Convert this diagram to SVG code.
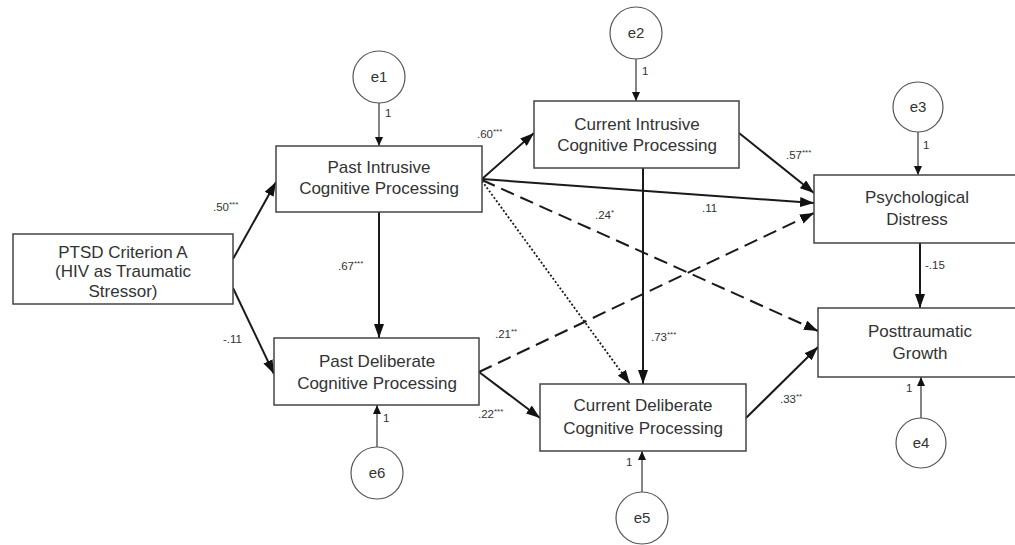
<svg xmlns="http://www.w3.org/2000/svg" width="1015" height="545" viewBox="0 0 1015 545">
<defs>
<style>
.box{fill:#fff;stroke:#444;stroke-width:1.5}
.err{fill:#fff;stroke:#555;stroke-width:1.2}
.bt{font-family:"Liberation Sans",Arial,sans-serif;font-size:17px;fill:#333;text-anchor:middle}
.et{font-family:"Liberation Sans",Arial,sans-serif;font-size:15px;fill:#333;text-anchor:middle}
.lb{font-family:"Liberation Sans",Arial,sans-serif;font-size:11.5px;fill:#333}
.st{font-size:8px}
.main{stroke:#1a1a1a;stroke-width:2;fill:none;marker-end:url(#big)}
.dash{stroke-dasharray:14 7}
.dot{stroke-dasharray:2 2;stroke-width:1.8}
.ea{stroke:#333;stroke-width:1.2;fill:none;marker-end:url(#small)}
</style>
<marker id="big" viewBox="0 0 14 10" refX="14" refY="5" markerWidth="14" markerHeight="10" markerUnits="userSpaceOnUse" orient="auto"><path d="M0,0 L14,5 L0,10 z" fill="#111"/></marker>
<marker id="small" viewBox="0 0 9 8" refX="9" refY="4" markerWidth="9" markerHeight="8" markerUnits="userSpaceOnUse" orient="auto"><path d="M0,0 L9,4 L0,8 z" fill="#111"/></marker>
</defs>
<rect width="1015" height="545" fill="#fff"/>
<g id="connectors">
<line class="main" x1="233" y1="259" x2="276" y2="182"/>
<line class="main" x1="233" y1="288" x2="274" y2="374"/>
<line class="main" x1="482" y1="179" x2="534" y2="133"/>
<line class="main" x1="379" y1="212" x2="379" y2="338"/>
<line class="main" x1="482" y1="179" x2="814" y2="203"/>
<line class="main dash" x1="482" y1="180" x2="818" y2="331"/>
<line class="main dot" x1="482" y1="181" x2="630" y2="384"/>
<line class="main" x1="643" y1="168" x2="643" y2="384"/>
<line class="main" x1="739" y1="133" x2="814" y2="193"/>
<line class="main dash" x1="479" y1="372" x2="814" y2="213"/>
<line class="main" x1="479" y1="372" x2="540" y2="418"/>
<line class="main" x1="746" y1="418" x2="818" y2="347"/>
<line class="main" x1="920" y1="243" x2="920" y2="308"/>
<line class="ea" x1="379" y1="103" x2="379" y2="146"/>
<line class="ea" x1="636" y1="59" x2="636" y2="101"/>
<line class="ea" x1="918" y1="132" x2="918" y2="175"/>
<line class="ea" x1="921" y1="418" x2="921" y2="377"/>
<line class="ea" x1="642" y1="492" x2="642" y2="451"/>
<line class="ea" x1="377" y1="447" x2="377" y2="405"/>
<text class="lb" x="213" y="211">.50<tspan class="st" dy="-4">***</tspan></text>
<text class="lb" x="223" y="343">-.11</text>
<text class="lb" x="477" y="138">.60<tspan class="st" dy="-4">***</tspan></text>
<text class="lb" x="338" y="270">.67<tspan class="st" dy="-4">***</tspan></text>
<text class="lb" x="495" y="338">.21<tspan class="st" dy="-4">**</tspan></text>
<text class="lb" x="478" y="418">.22<tspan class="st" dy="-4">***</tspan></text>
<text class="lb" x="595" y="219">.24<tspan class="st" dy="-4">*</tspan></text>
<text class="lb" x="702" y="212">.11</text>
<text class="lb" x="651" y="341">.73<tspan class="st" dy="-4">***</tspan></text>
<text class="lb" x="786" y="159">.57<tspan class="st" dy="-4">***</tspan></text>
<text class="lb" x="780" y="403">.33<tspan class="st" dy="-4">**</tspan></text>
<text class="lb" x="925" y="269">-.15</text>
<text class="lb" x="385" y="117">1</text>
<text class="lb" x="642" y="75">1</text>
<text class="lb" x="923" y="149">1</text>
<text class="lb" x="906" y="392">1</text>
<text class="lb" x="626" y="466">1</text>
<text class="lb" x="383" y="422">1</text>
</g>
<g id="ptsd"><rect class="box" x="13" y="234" width="220" height="70"/><text class="bt" x="123" y="258">PTSD Criterion A</text><text class="bt" x="123" y="277">(HIV as Traumatic</text><text class="bt" x="123" y="297">Stressor)</text></g>
<g id="past-intrusive"><rect class="box" x="276" y="146" width="206" height="66"/><text class="bt" x="379" y="173">Past Intrusive</text><text class="bt" x="379" y="194">Cognitive Processing</text></g>
<g id="past-deliberate"><rect class="box" x="274" y="338" width="205" height="67"/><text class="bt" x="377" y="367">Past Deliberate</text><text class="bt" x="377" y="389">Cognitive Processing</text></g>
<g id="current-intrusive"><rect class="box" x="534" y="101" width="205" height="67"/><text class="bt" x="637" y="130">Current Intrusive</text><text class="bt" x="637" y="151">Cognitive Processing</text></g>
<g id="current-deliberate"><rect class="box" x="540" y="384" width="206" height="67"/><text class="bt" x="643" y="411">Current Deliberate</text><text class="bt" x="643" y="434">Cognitive Processing</text></g>
<g id="distress"><rect class="box" x="814" y="175" width="208" height="68"/><text class="bt" x="917" y="203">Psychological</text><text class="bt" x="917" y="225">Distress</text></g>
<g id="growth"><rect class="box" x="818" y="308" width="206" height="69"/><text class="bt" x="920" y="337">Posttraumatic</text><text class="bt" x="920" y="359">Growth</text></g>
<g id="e1"><circle class="err" cx="379" cy="77" r="26"/><text class="et" x="379" y="82">e1</text></g>
<g id="e2"><circle class="err" cx="636" cy="33" r="26"/><text class="et" x="636" y="38">e2</text></g>
<g id="e3"><circle class="err" cx="918" cy="107" r="25"/><text class="et" x="918" y="112">e3</text></g>
<g id="e4"><circle class="err" cx="921" cy="443" r="25"/><text class="et" x="921" y="448">e4</text></g>
<g id="e5"><circle class="err" cx="642" cy="518" r="26"/><text class="et" x="642" y="523">e5</text></g>
<g id="e6"><circle class="err" cx="377" cy="473" r="26"/><text class="et" x="377" y="478">e6</text></g>
</svg>
